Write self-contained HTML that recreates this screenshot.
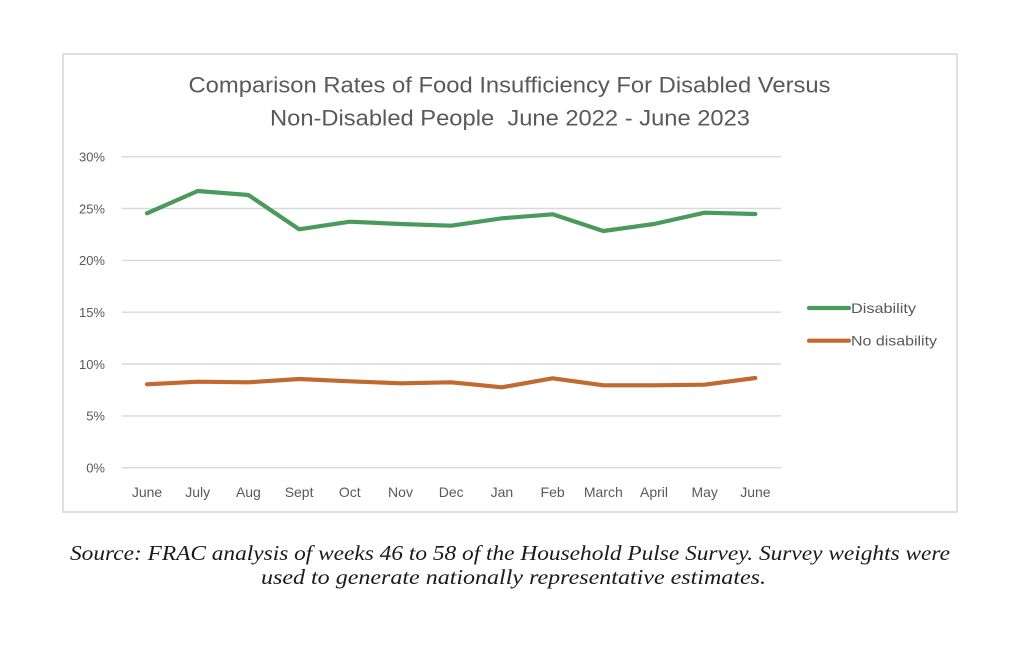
<!DOCTYPE html>
<html><head><meta charset="utf-8"><style>
html,body{margin:0;padding:0;background:#fff;}
svg{display:block;}
</style></head><body>
<svg width="1024" height="648" viewBox="0 0 1024 648" xmlns="http://www.w3.org/2000/svg">
<rect x="0" y="0" width="1024" height="648" fill="#fff"/>
<rect x="63" y="54" width="894" height="458" fill="#fff" stroke="#d9d9d9" stroke-width="1.6"/>
<g font-family="'Liberation Sans', sans-serif" fill="#595959">
<text x="509.5" y="92.5" font-size="22" text-anchor="middle" textLength="642" lengthAdjust="spacingAndGlyphs">Comparison Rates of Food Insufficiency For Disabled Versus</text>
<text x="510" y="125.5" font-size="22" text-anchor="middle" textLength="480" lengthAdjust="spacingAndGlyphs" xml:space="preserve">Non-Disabled People  June 2022 - June 2023</text>
</g>
<g stroke="#d9d9d9" stroke-width="1.4">
<line x1="121.7" y1="156.7" x2="781" y2="156.7"/>
<line x1="121.7" y1="208.5" x2="781" y2="208.5"/>
<line x1="121.7" y1="260.4" x2="781" y2="260.4"/>
<line x1="121.7" y1="312.2" x2="781" y2="312.2"/>
<line x1="121.7" y1="364.0" x2="781" y2="364.0"/>
<line x1="121.7" y1="415.9" x2="781" y2="415.9"/>
<line x1="121.7" y1="467.7" x2="781" y2="467.7"/>
</g>
<g font-family="'Liberation Sans', sans-serif" font-size="13" fill="#595959" text-anchor="end">
<text x="105" y="161.5">30%</text>
<text x="105" y="213.3">25%</text>
<text x="105" y="265.2">20%</text>
<text x="105" y="317">15%</text>
<text x="105" y="368.8">10%</text>
<text x="105" y="420.7">5%</text>
<text x="105" y="472.5">0%</text>
</g>
<g font-family="'Liberation Sans', sans-serif" font-size="14" fill="#595959" text-anchor="middle">
<text x="147" y="497">June</text>
<text x="197.7" y="497">July</text>
<text x="248.4" y="497">Aug</text>
<text x="299.1" y="497">Sept</text>
<text x="349.8" y="497">Oct</text>
<text x="400.5" y="497">Nov</text>
<text x="451.2" y="497">Dec</text>
<text x="501.9" y="497">Jan</text>
<text x="552.6" y="497">Feb</text>
<text x="603.3" y="497">March</text>
<text x="654" y="497">April</text>
<text x="704.7" y="497">May</text>
<text x="755.4" y="497">June</text>
</g>
<polyline fill="none" stroke="#4a9a5c" stroke-width="4.2" stroke-linejoin="round" stroke-linecap="round"
points="147,213.3 197.7,191 248.4,195 299.1,229.3 349.8,221.7 400.5,224 451.2,225.7 501.9,218.3 552.6,214.3 603.3,231 654,224 704.7,212.7 755.4,214"/>
<polyline fill="none" stroke="#c06a30" stroke-width="4.2" stroke-linejoin="round" stroke-linecap="round"
points="147,384.3 197.7,381.7 248.4,382.3 299.1,379 349.8,381.3 400.5,383.3 451.2,382.3 501.9,387.3 552.6,378.3 603.3,385.3 654,385.3 704.7,384.7 755.4,378"/>
<line x1="809" y1="308" x2="849" y2="308" stroke="#4a9a5c" stroke-width="4.2" stroke-linecap="round"/>
<line x1="809" y1="340.7" x2="849" y2="340.7" stroke="#c06a30" stroke-width="4.2" stroke-linecap="round"/>
<g font-family="'Liberation Sans', sans-serif" font-size="14" fill="#595959">
<text x="851" y="313" textLength="65" lengthAdjust="spacingAndGlyphs">Disability</text>
<text x="851" y="345.7" textLength="86" lengthAdjust="spacingAndGlyphs">No disability</text>
</g>
<g font-family="'Liberation Serif', serif" font-style="italic" font-size="21" fill="#1a1a1a">
<text x="70" y="560" textLength="880" lengthAdjust="spacingAndGlyphs">Source: FRAC analysis of weeks 46 to 58 of the Household Pulse Survey. Survey weights were</text>
<text x="261" y="584" textLength="505" lengthAdjust="spacingAndGlyphs">used to generate nationally representative estimates.</text>
</g>
</svg>
</body></html>
